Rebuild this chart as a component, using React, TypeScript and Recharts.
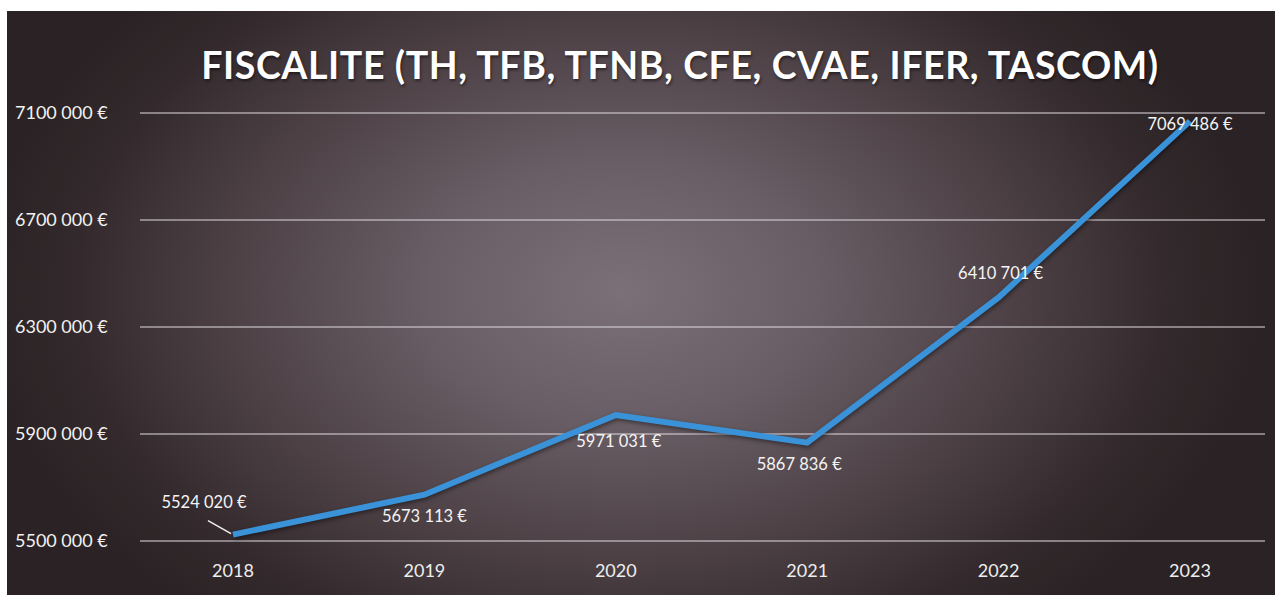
import React from "react";
import { LineChart, Line, XAxis, YAxis, CartesianGrid, LabelList } from "recharts";

const years = ["2018", "2019", "2020", "2021", "2022", "2023"];
const fiscalite = [5524020, 5673113, 5971031, 5867836, 6410701, 7069486];
const yTicks = [5500000, 5900000, 6300000, 6700000, 7100000];

const data = years.map((year, i) => ({ year, value: fiscalite[i] }));

// label placement relative to each point (dx, dy)
const LABEL_OFFSETS = [
  [-29, -32],
  [0, 22],
  [3, 27],
  [-8, 22],
  [2, -23],
  [0, 4],
];

const FONT = "Lato, 'Open Sans', sans-serif";

const euro = (v: number) =>
  `${Math.floor(v / 1000)} ${String(v % 1000).padStart(3, "0")} €`;

const YTick = (props: any) => {
  const { y, payload } = props;
  return (
    <text x={15} y={y} dy={6} fill="#f2f2f2" fontSize={18} fontFamily={FONT} textAnchor="start">
      {euro(payload.value)}
    </text>
  );
};

const XTick = (props: any) => {
  const { x, payload } = props;
  return (
    <text x={x} y={577} fill="#eeeeee" fontSize={18} fontFamily={FONT} textAnchor="middle">
      {payload.value}
    </text>
  );
};

const PointLabel = (props: any) => {
  const { x, y, index, value } = props;
  const [dx, dy] = LABEL_OFFSETS[index] || [0, -20];
  return (
    <g>
      {index === 0 && (
        <line x1={x - 25} y1={y - 14} x2={x - 2} y2={y - 1} stroke="#f0f0f0" strokeWidth={1.5} />
      )}
      <text
        x={x + dx}
        y={y + dy}
        dy={5}
        fill="#f4f4f4"
        fontSize={16.5}
        fontFamily={FONT}
        textAnchor="middle"
      >
        {euro(value)}
      </text>
    </g>
  );
};

export default function App() {
  return (
    <div
      style={{
        position: "absolute",
        left: 0,
        top: 0,
        width: 1275,
        height: 595,
        background: "#ffffff",
      }}
    >
      <div
        style={{
          position: "absolute",
          left: 7,
          top: 11,
          width: 1268,
          height: 584,
          background:
            "radial-gradient(ellipse 640px 430px at 615px 280px, #7b7078 0%, #695e65 30%, #4c4045 62%, #342a2d 85%, #2a2224 100%)",
        }}
      />
      <div
        style={{
          position: "absolute",
          left: 130,
          width: 1100,
          top: 42,
          textAlign: "center",
          color: "#ffffff",
          fontFamily: FONT,
          fontWeight: 700,
          fontSize: 37.5,
          letterSpacing: 0.6,
          textShadow: "1px 2px 3px rgba(0,0,0,0.5)",
        }}
      >
        FISCALITE (TH, TFB, TFNB, CFE, CVAE, IFER, TASCOM)
      </div>
      <div style={{ position: "absolute", left: 0, top: 0 }}>
        <LineChart
          width={1275}
          height={595}
          data={data}
          margin={{ top: 113, right: 10, bottom: 14, left: 0 }}
        >
          <CartesianGrid
            horizontal={true}
            vertical={false}
            stroke="rgba(225,220,225,0.5)"
            strokeWidth={1.8}
          />
          <XAxis
            dataKey="year"
            axisLine={false}
            tickLine={false}
            height={40}
            padding={{ left: 93, right: 75 }}
            tick={<XTick />}
            interval={0}
          />
          <YAxis
            domain={[5500000, 7100000]}
            ticks={yTicks}
            axisLine={false}
            tickLine={false}
            width={140}
            tick={<YTick />}
            interval={0}
          />
          <Line
            type="linear"
            dataKey="value"
            stroke="#3a92d8"
            strokeWidth={6}
            dot={false}
            activeDot={false}
            isAnimationActive={false}
            style={{ filter: "drop-shadow(1px 2px 2px rgba(0,0,0,0.45))" }}
          >
            <LabelList dataKey="value" content={<PointLabel />} />
          </Line>
        </LineChart>
      </div>
    </div>
  );
}
